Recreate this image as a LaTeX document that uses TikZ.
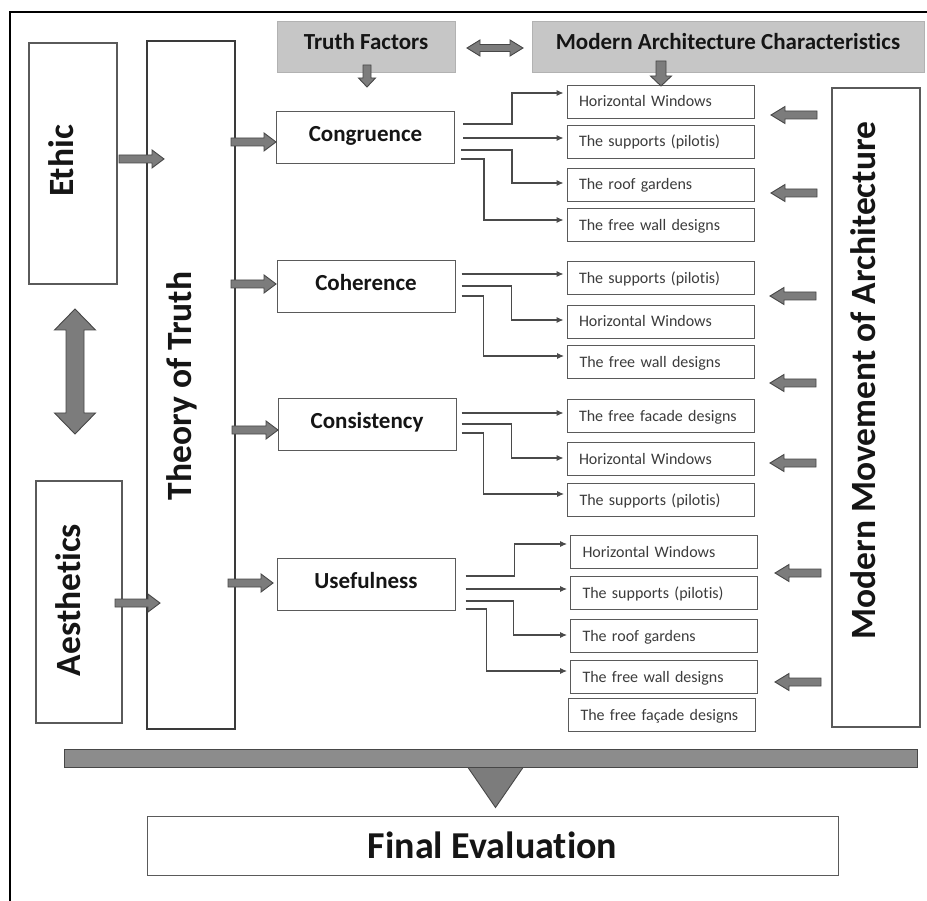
\documentclass[tikz,border=0pt]{standalone}
\usepackage{fontspec}
\setmainfont{Carlito}[Ligatures={NoCommon}]
\usetikzlibrary{arrows.meta,calc}
\definecolor{boxline}{HTML}{5A5A5A}
\definecolor{darkline}{HTML}{3A3A3A}
\definecolor{arrfill}{HTML}{7C7C7C}
\definecolor{arrline}{HTML}{474747}
\definecolor{hdrfill}{HTML}{C6C6C6}
\definecolor{conncol}{HTML}{4A4A4A}
\definecolor{smalltext}{HTML}{3C3C3C}
\definecolor{bigtext}{HTML}{151515}
\tikzset{
  blockarrow/.style={fill=arrfill, draw=arrline, line width=0.9pt, line join=miter},
  pics/barrow/.style n args={4}{code={
    \draw[blockarrow] (0,-#2) -- ({#1-#4},-#2) -- ({#1-#4},-#3) -- (#1,0) -- ({#1-#4},#3) -- ({#1-#4},#2) -- (0,#2) -- cycle;
  }},
  pics/dbarrow/.style n args={4}{code={
    \draw[blockarrow] (0,0) -- (#4,-#3) -- (#4,-#2) -- ({#1-#4},-#2) -- ({#1-#4},-#3) -- (#1,0) -- ({#1-#4},#3) -- ({#1-#4},#2) -- (#4,#2) -- (#4,#3) -- cycle;
  }},
  bigbox/.style={draw=boxline, line width=1.1pt, fill=white, inner sep=0pt},
  biglabel/.style={inner sep=0pt, font=\fontsize{35.5}{38}\selectfont\bfseries, text=bigtext},
  midbox/.style={draw=boxline, line width=1pt, fill=white, inner sep=0pt, minimum width=178, minimum height=52, font=\fontsize{23}{25}\selectfont\bfseries, text=bigtext, text height=15, text depth=7},
  hdrbox/.style={fill=hdrfill, draw=hdrfill!90!black, line width=0.4pt, inner sep=0pt, minimum height=51, font=\fontsize{23}{25}\selectfont\bfseries, text=bigtext, text height=15, text depth=8},
  smallbox/.style={draw=boxline, line width=0.9pt, fill=white, minimum height=33, text width=163, inner xsep=12, inner ysep=0pt, align=left, font=\fontsize{16}{18}\selectfont, text=smalltext, text height=11, text depth=0},
  conn/.style={draw=conncol, line width=1.1pt, -{Latex[length=7pt,width=6pt]}, shorten >=3pt},
}
\begin{document}
\begin{tikzpicture}[x=1pt,y=-1pt]
\useasboundingbox (0,0) rectangle (927,901);
\fill[white] (0,0) rectangle (927,901);
% frame
\draw[line width=2pt, black] (10,901) -- (10,12) -- (927,12);

% big boxes
\node[bigbox, minimum width=88, minimum height=241] (ethic) at (73,163.5) {};
\node[biglabel, rotate=90, anchor=base] (ethiclbl) at (73,161) {Ethic};
\node[bigbox, draw=darkline, minimum width=88, minimum height=688] (theory) at (191,385) {};
\node[biglabel, rotate=90, anchor=base] (theorylbl) at (191,386) {Theory of Truth};
\node[bigbox, minimum width=86, minimum height=242] (aesth) at (79,602) {};
\node[biglabel, rotate=90, anchor=base] (aesthlbl) at (80,600) {Aesthetics};
\node[bigbox, minimum width=88, minimum height=639] (mma) at (876,407.5) {};
\node[biglabel, rotate=90, anchor=base] (mmalbl) at (875,380.5) {Modern Movement of Architecture};

% headers
\node[hdrbox, minimum width=178] (tf) at (366,46.5) {Truth Factors};
\node[hdrbox, minimum width=392] (mac) at (728,46.5) {Modern Architecture Characteristics};

% truth factor boxes
\node[midbox] (cong) at (365.5,138) {Congruence};
\node[midbox] (coh) at (366,286.5) {Coherence};
\node[midbox] (cons) at (367,424.5) {Consistency};
\node[midbox] (use) at (366,584) {Usefulness};

% characteristic boxes
\node[smallbox] (hw1) at (660.5,101.5) {Horizontal Windows};
\node[smallbox] (sp1) at (660.5,141.5) {The supports (pilotis)};
\node[smallbox] (rg1) at (660.5,184.5) {The roof gardens};
\node[smallbox] (fw1) at (660.5,225) {The free wall designs};

\node[smallbox] (sp2) at (660.5,278) {The supports (pilotis)};
\node[smallbox] (hw2) at (660.5,321.5) {Horizontal Windows};
\node[smallbox] (fw2) at (661,362) {The free wall designs};

\node[smallbox] (ff3) at (660.5,416) {The free facade designs};
\node[smallbox] (hw3) at (660.5,459) {Horizontal Windows};
\node[smallbox] (sp3) at (661,500) {The supports (pilotis)};

\node[smallbox] (hw4) at (664,552) {Horizontal Windows};
\node[smallbox] (sp4) at (664,593) {The supports (pilotis)};
\node[smallbox] (rg4) at (664,635.5) {The roof gardens};
\node[smallbox] (fw4) at (664,676.5) {The free wall designs};
\node[smallbox] (ff4) at (662,715) {The free façade designs};

% final
\node[draw=boxline, line width=1pt, fill=white, minimum width=691, minimum height=59, inner sep=0pt, font=\fontsize{38}{40}\selectfont\bfseries, text=bigtext] (final) at (492.5,845.5) {Final Evaluation};
\node[draw=arrline, line width=1pt, fill=black!45, minimum width=853, minimum height=18, inner sep=0pt] (bar) at (490.5,758) {};
\draw[blockarrow] ($(bar.south)+(-22.5,0)$) -- ($(bar.south)+(32.5,0)$) -- ($(final.north)+(3,-8)$) -- cycle;

% connectors: Congruence
\draw[conn] ($(cong.east)+(8,-14)$) -- ++(49,0) |- ($(hw1.west)+(0,-8.5)$);
\draw[conn] ($(cong.east)+(8,0)$) coordinate (c2) -- (c2 -| sp1.west);
\draw[conn] ($(cong.east)+(6,12)$) -- ++(51,0) |- ($(rg1.west)+(0,-1.5)$);
\draw[conn] ($(cong.east)+(6,21)$) -- ++(23,0) |- ($(fw1.west)+(0,-5)$);
% Coherence
\draw[conn] ($(coh.east)+(6,-12.5)$) coordinate (h1) -- (h1 -| sp2.west);
\draw[conn] ($(coh.east)+(6,-0.5)$) -- ++(50,0) |- ($(hw2.west)+(0,-1.5)$);
\draw[conn] ($(coh.east)+(6,9.5)$) -- ++(22,0) |- ($(fw2.west)+(0,-6)$);
% Consistency
\draw[conn] ($(cons.east)+(5,-11.5)$) coordinate (s1) -- (s1 -| ff3.west);
\draw[conn] ($(cons.east)+(5,-0.5)$) -- ++(50,0) |- ($(hw3.west)+(0,-1)$);
\draw[conn] ($(cons.east)+(5,8.5)$) -- ++(22,0) |- ($(sp3.west)+(0,-6)$);
% Usefulness
\draw[conn] ($(use.east)+(10,-8)$) -- ++(49,0) |- ($(hw4.west)+(0,-8)$);
\draw[conn] ($(use.east)+(10,5)$) coordinate (u2) -- (u2 -| sp4.west);
\draw[conn] ($(use.east)+(10,17)$) -- ++(48,0) |- ($(rg4.west)+(0,-0.5)$);
\draw[conn] ($(use.east)+(10,25)$) -- ++(21,0) |- ($(fw4.west)+(0,-5.5)$);

% block arrows
\pic at (119,159) {barrow={45}{4}{9}{12}};
\pic at (115,603) {barrow={45}{4}{9}{12}};
\pic at (231,142) {barrow={45}{4}{9}{12}};
\pic at (231,284) {barrow={45}{4}{9}{12}};
\pic at (232,430) {barrow={46}{4}{9}{12}};
\pic at (228,583) {barrow={45}{4}{9}{12}};
\pic[rotate=180] at (817,115) {barrow={46}{4}{8.5}{14}};
\pic[rotate=180] at (817,193) {barrow={46}{4}{8.5}{14}};
\pic[rotate=180] at (816,296) {barrow={46}{4}{8.5}{14}};
\pic[rotate=180] at (816,383) {barrow={46}{4}{8.5}{14}};
\pic[rotate=180] at (816,463) {barrow={46}{4}{8.5}{14}};
\pic[rotate=180] at (821,573) {barrow={46}{4}{8.5}{14}};
\pic[rotate=180] at (821,682) {barrow={46}{4}{8.5}{14}};
\pic[rotate=-90] at (367,65) {barrow={22}{4}{8.5}{9}};
\pic[rotate=-90] at (661,61) {barrow={25}{5}{10.5}{10}};
\pic at (467,48) {dbarrow={56}{3.5}{8}{13}};
\pic[rotate=-90] at (75,309) {dbarrow={125}{9}{20.5}{21}};
\end{tikzpicture}
\end{document}
